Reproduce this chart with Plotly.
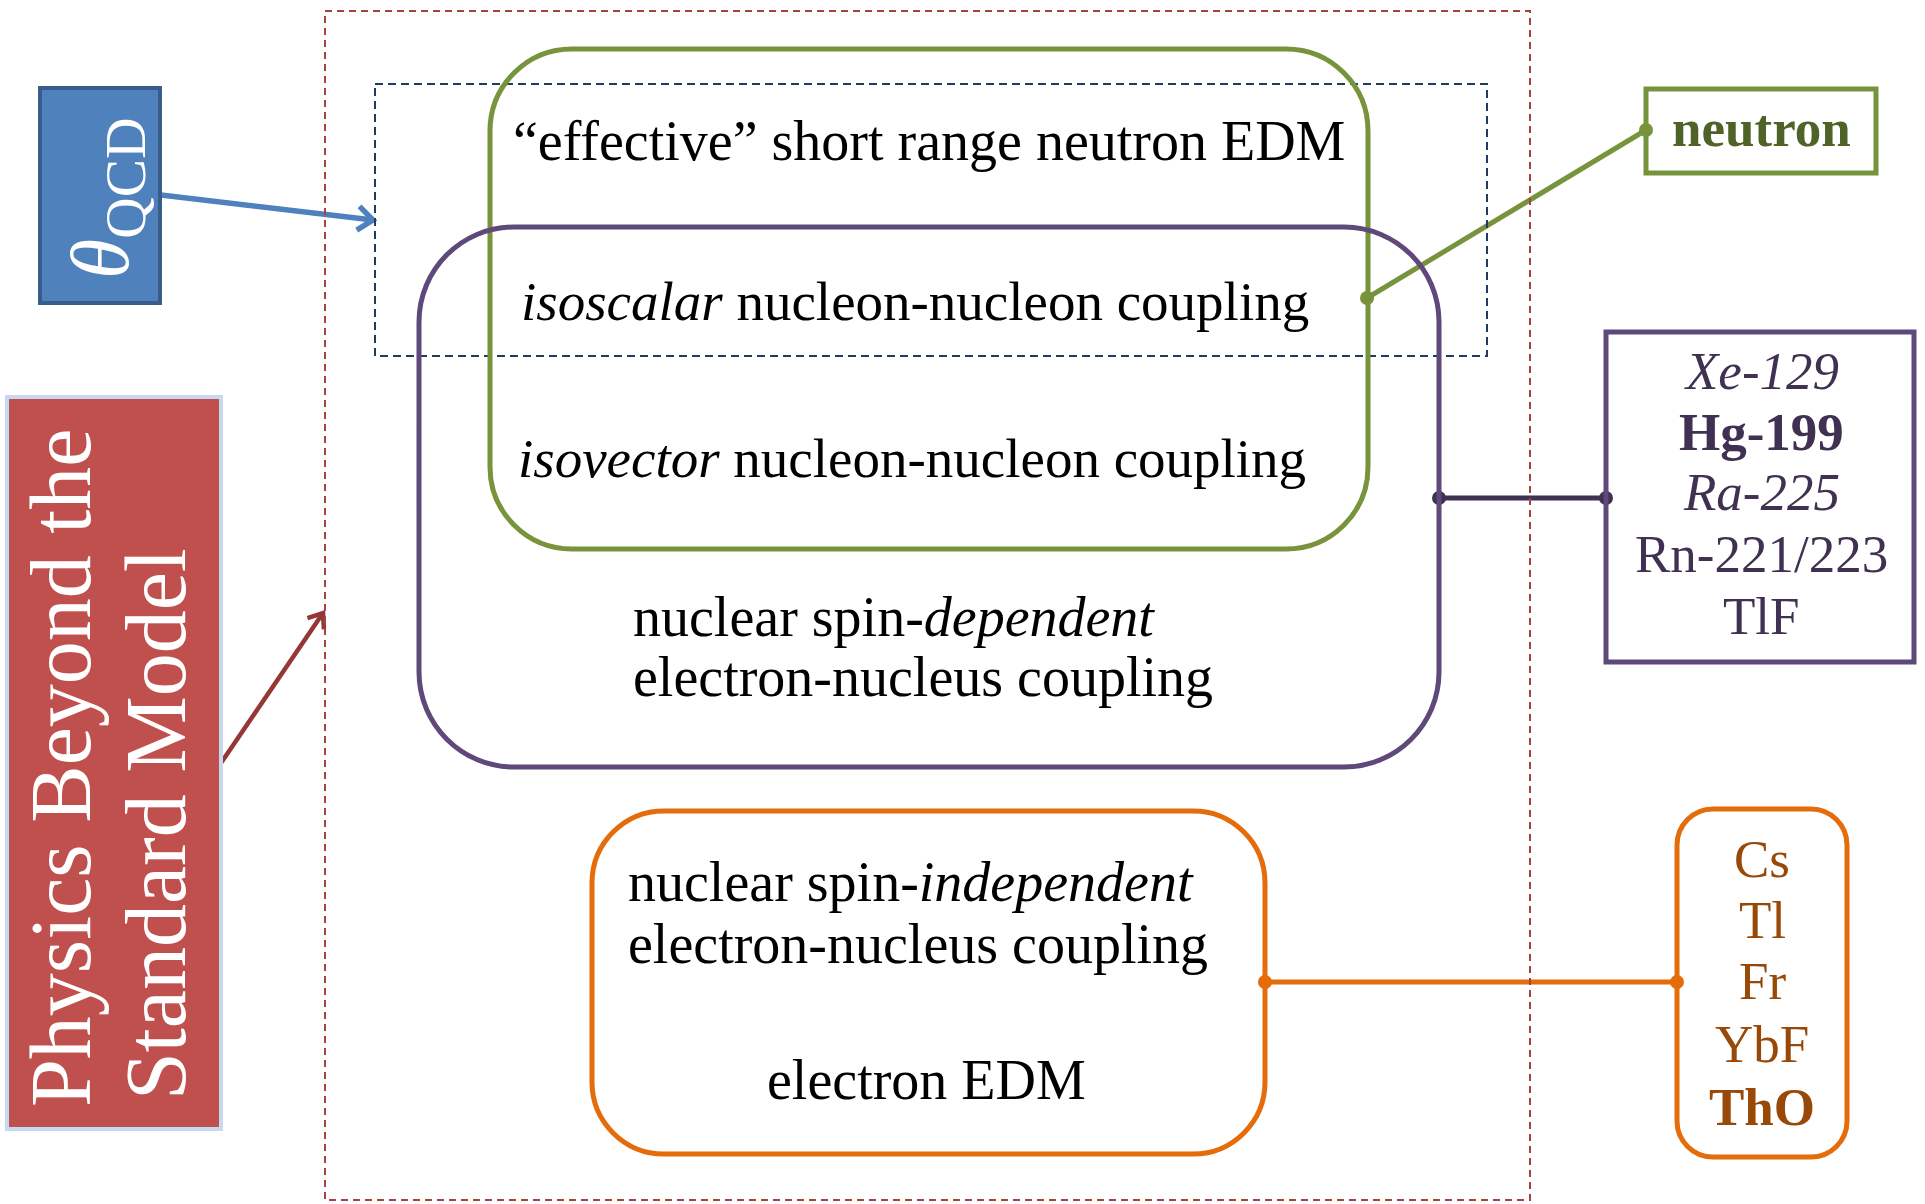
import math
import plotly.graph_objects as go

# ---- text content ----
theta_label = "<i>θ</i><sub>QCD</sub>"
bsm_lines = ["Physics Beyond the", "Standard Model"]
green_lines = ["“effective” short range neutron EDM",
               "<i>isoscalar</i> nucleon-nucleon coupling",
               "<i>isovector</i> nucleon-nucleon coupling"]
purple_lines = ["nuclear spin-<i>dependent</i>", "electron-nucleus coupling"]
orange_lines = ["nuclear spin-<i>independent</i>", "electron-nucleus coupling"]
orange_edm = "electron EDM"
neutron_label = "<b>neutron</b>"
purple_systems = ["<i>Xe-129</i>", "<b>Hg-199</b>", "<i>Ra-225</i>", "Rn-221/223", "TlF"]
orange_systems = ["Cs", "Tl", "Fr", "YbF", "<b>ThO</b>"]

FONT = "Liberation Serif"
W, H = 1925, 1204

fig = go.Figure()


def rrect(x0, y0, x1, y1, r):
    k = 0.5523 * r
    return (f"M {x0+r},{y0} L {x1-r},{y0} C {x1-r+k},{y0} {x1},{y0+r-k} {x1},{y0+r} "
            f"L {x1},{y1-r} C {x1},{y1-r+k} {x1-r+k},{y1} {x1-r},{y1} "
            f"L {x0+r},{y1} C {x0+r-k},{y1} {x0},{y1-r+k} {x0},{y1-r} "
            f"L {x0},{y0+r} C {x0},{y0+r-k} {x0+r-k},{y0} {x0+r},{y0} Z")


shapes = []
# outer red dashed frame
shapes.append(dict(type="rect", x0=325, y0=11, x1=1530, y1=1200,
                   line=dict(color="#A8423F", width=2, dash="7px,5px")))
# navy dashed box
shapes.append(dict(type="rect", x0=375, y0=84, x1=1487, y1=356,
                   line=dict(color="#1F3B63", width=2, dash="8px,5px")))
# green rounded
shapes.append(dict(type="path", path=rrect(490, 49, 1368, 549, 82),
                   line=dict(color="#77933C", width=5)))
# purple rounded
shapes.append(dict(type="path", path=rrect(419, 227, 1439, 767, 95),
                   line=dict(color="#5F497A", width=5)))
# orange rounded
shapes.append(dict(type="path", path=rrect(592, 811, 1265, 1154, 72),
                   line=dict(color="#E46C0A", width=5)))
# theta box
shapes.append(dict(type="rect", x0=40, y0=88, x1=160, y1=303,
                   fillcolor="#4F81BD", line=dict(color="#385D8A", width=4)))
# BSM box
shapes.append(dict(type="rect", x0=7, y0=397, x1=221, y1=1129,
                   fillcolor="#C0504D", line=dict(color="#C6D9F1", width=4)))
# neutron box
shapes.append(dict(type="rect", x0=1646, y0=89, x1=1876, y1=173,
                   line=dict(color="#77933C", width=5)))
# purple systems box
shapes.append(dict(type="rect", x0=1606, y0=332, x1=1914, y1=662,
                   line=dict(color="#5F497A", width=5)))
# orange systems box
shapes.append(dict(type="path", path=rrect(1677, 809, 1847, 1157, 36),
                   line=dict(color="#E46C0A", width=5)))

fig.update_layout(shapes=shapes)

# connectors with end dots
connectors = [
    ([1367, 1646], [298, 130], "#77933C"),
    ([1439, 1606], [498, 498], "#403152"),
    ([1265, 1677], [982, 982], "#E46C0A"),
]
for xs, ys, c in connectors:
    fig.add_trace(go.Scatter(x=xs, y=ys, mode="lines+markers",
                             line=dict(color=c, width=5),
                             marker=dict(color=c, size=14),
                             hoverinfo="skip", showlegend=False))

# arrows: shaft + open chevron head
arrows = [
    ((161, 195), (373, 220), "#4F81BD", 5.5, 15, 12),
    ((221, 763), (323, 613), "#953735", 4.5, 13, 10),
]
for (x0, y0), (x1, y1), c, w, L, hw in arrows:
    dx, dy = x1 - x0, y1 - y0
    n = math.hypot(dx, dy)
    ux, uy = dx / n, dy / n
    px, py = -uy, ux
    fig.add_trace(go.Scatter(x=[x0, x1], y=[y0, y1], mode="lines",
                             line=dict(color=c, width=w),
                             hoverinfo="skip", showlegend=False))
    fig.add_trace(go.Scatter(
        x=[x1 - L * ux + hw * px, x1, x1 - L * ux - hw * px],
        y=[y1 - L * uy + hw * py, y1, y1 - L * uy - hw * py],
        mode="lines", line=dict(color=c, width=w),
        hoverinfo="skip", showlegend=False))

ann = []


def text(t, x, baseline, size, color="black", xanchor="center"):
    ann.append(dict(text=t, x=x, y=baseline - 0.3375 * size + 2, xref="x", yref="y",
                    xanchor=xanchor, yanchor="middle", showarrow=False,
                    font=dict(family=FONT, size=size, color=color)))


# green box lines
text(green_lines[0], 929, 158, 56)
text(green_lines[1], 915, 318, 55)
text(green_lines[2], 912, 475, 55)
# purple box lines
text(purple_lines[0], 631, 634, 56, xanchor="left")
text(purple_lines[1], 631, 694, 56, xanchor="left")
# orange box lines
text(orange_lines[0], 626, 899, 56, xanchor="left")
text(orange_lines[1], 626, 961, 56, xanchor="left")
text(orange_edm, 926, 1097, 56)
# neutron
text(neutron_label, 1761, 144, 53, color="#4F6228")
# systems
for lab, b in zip(purple_systems, [387, 448, 508, 570, 632]):
    text(lab, 1761, b, 53, color="#403152")
for lab, b in zip(orange_systems, [875, 936, 997, 1060, 1123]):
    text(lab, 1762, b, 53, color="#984807")

# rotated labels
ann.append(dict(text=theta_label, x=106, y=199, xref="x", yref="y", showarrow=False,
                textangle=-90, xanchor="center", yanchor="middle",
                font=dict(family=FONT, size=82, color="white")))
ann.append(dict(text=bsm_lines[0], x=61, y=768, xref="x", yref="y", showarrow=False,
                textangle=-90, xanchor="center", yanchor="middle",
                font=dict(family=FONT, size=86, color="white")))
ann.append(dict(text=bsm_lines[1], x=156, y=824, xref="x", yref="y", showarrow=False,
                textangle=-90, xanchor="center", yanchor="middle",
                font=dict(family=FONT, size=86, color="white")))

fig.update_layout(
    annotations=ann,
    width=W, height=H,
    margin=dict(l=0, r=0, t=0, b=0, pad=0),
    paper_bgcolor="white", plot_bgcolor="white",
    xaxis=dict(range=[0, W], visible=False, fixedrange=True),
    yaxis=dict(range=[H, 0], visible=False, fixedrange=True),
    showlegend=False,
)

fig.write_html("out.html", post_script="document.body.style.margin='0px';document.body.style.overflow='hidden';",
               config={"displayModeBar": False})
